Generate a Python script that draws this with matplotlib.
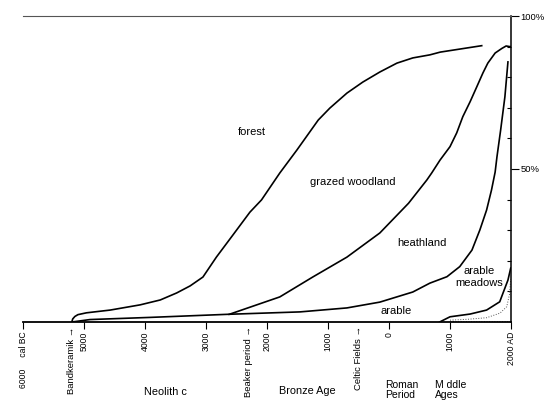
import matplotlib
matplotlib.use('Agg')
import matplotlib.pyplot as plt
import matplotlib.transforms as mtransforms

plt.rcParams['font.family'] = ['Liberation Sans', 'DejaVu Sans']

# years: negative = BC, positive = AD ; values = share of landscape in %
forest_years = [-5200, -5185, -5150, -5100, -4960, -4570, -4080, -3750, -3480, -3260, -3050, -2830,
                -2560, -2280, -2090, -1790, -1510, -1160, -970, -690, -430, -150,
                130, 390, 670, 840, 1520]
forest_pct = [0, 1.0, 1.8, 2.4, 3.0, 3.9, 5.6, 7.2, 9.5, 11.8, 14.7, 21.2,
              28.4, 35.9, 39.9, 48.7, 56.2, 66.0, 69.9, 74.8, 78.4, 81.7,
              84.6, 86.3, 87.3, 88.2, 90.3]

grazed_years = [-2620, -1790, -1250, -690, -150, 320, 620, 700, 836, 1000,
                1110, 1210, 1330, 1440, 1540, 1620, 1740, 1850, 1920, 1980, 2000]
grazed_pct = [2.5, 8.2, 14.7, 21.2, 29.1, 38.8, 46.4, 48.7, 52.9, 57.3,
              61.8, 67.1, 72.0, 76.9, 81.4, 84.6, 87.9, 89.4, 90.2, 90.0, 90.0]

heath_years = [-5200, -4900, -3920, -2660, -1460, -690, -150, 390, 670, 950,
               1160, 1360, 1490, 1600, 1680, 1740, 1770, 1830, 1900, 1950]
heath_pct = [0, 0.8, 1.5, 2.5, 3.3, 4.6, 6.5, 9.8, 12.7, 14.8,
             18.1, 23.5, 30.1, 36.6, 43.1, 49.0, 54.0, 62.7, 73.6, 85.0]

arable_years = [830, 1000, 1330, 1600, 1815, 1870, 1950, 1995]
arable_pct = [0, 1.7, 2.6, 3.9, 6.6, 9.5, 13.7, 17.6]

meadow_years = [1000, 1300, 1600, 1820, 1930, 1975, 1995]
meadow_pct = [0.6, 0.9, 1.4, 2.9, 5.0, 9.0, 14.0]

tick_years = [-6000, -5000, -4000, -3000, -2000, -1000, 0, 1000, 2000]
tick_labels = ['6000     cal BC', '5000', '4000', '3000', '2000', '1000', '0', '1000', '2000 AD']

event_years = [-5200, -2300, -500]
event_labels = ['Bandkeramik \u2192', 'Beaker period \u2192', 'Celtic Fields \u2192']

fig = plt.figure(figsize=(5.46, 4.01), dpi=100)
ax = fig.add_axes([23/546, 79/401, 488/546, 306/401])
ax.set_xlim(-6000, 2000)
ax.set_ylim(0, 100)

ax.plot(forest_years, forest_pct, color='black', lw=1.2)
ax.plot(grazed_years, grazed_pct, color='black', lw=1.2)
ax.plot(heath_years, heath_pct, color='black', lw=1.2)
ax.plot(arable_years, arable_pct, color='black', lw=1.2)
ax.plot(meadow_years, meadow_pct, color='#555555', lw=0.7, ls=':')
ax.plot([1000, 2000], [0.4, 0.4], color='#555555', lw=0.7, ls=':')

ax.spines['left'].set_visible(False)
ax.spines['top'].set_color('#555555')
ax.spines['top'].set_linewidth(0.8)
ax.spines['right'].set_linewidth(1.1)
ax.spines['bottom'].set_linewidth(1.3)

ax.set_xticks(tick_years)
ax.set_xticklabels(tick_labels, rotation=90, fontsize=6.2)
ax.tick_params(axis='x', direction='out', length=5, width=0.8, pad=2)

ax.yaxis.tick_right()
ax.set_yticks([50, 100])
ax.set_yticklabels(['50%', '100%'], fontsize=6.8)
ax.set_yticks([10, 20, 30, 40, 60, 70, 80, 90], minor=True)
ax.tick_params(axis='y', which='major', direction='out', length=6, width=0.8, pad=1)
ax.tick_params(axis='y', which='minor', direction='in', length=3, width=0.8)

# area labels
ax.text(-2254, 62.2, 'forest', ha='center', va='center', fontsize=8)
ax.text(-600, 45.8, 'grazed woodland', ha='center', va='center', fontsize=8)
ax.text(533, 25.8, 'heathland', ha='center', va='center', fontsize=8)
ax.text(115, 3.6, 'arable', ha='center', va='center', fontsize=8)
ax.text(1475, 14.7, 'arable\nmeadows', ha='center', va='center', fontsize=8, linespacing=1.15)

trans = mtransforms.blended_transform_factory(ax.transData, ax.transAxes)
for yr, lab in zip(event_years, event_labels):
    ax.text(yr, -0.014, lab, rotation=90, ha='center', va='top', transform=trans, fontsize=6.8)

ax.text(-3670, -0.228, 'Neolith c', ha='center', va='center', transform=trans, fontsize=7.8)
ax.text(-1340, -0.225, 'Bronze Age', ha='center', va='center', transform=trans, fontsize=7.8)
ax.text(-66, -0.19, 'Roman\nPeriod', ha='left', va='top', transform=trans, fontsize=7.5, linespacing=1.0)
ax.text(754, -0.19, 'M ddle\nAges', ha='left', va='top', transform=trans, fontsize=7.5, linespacing=1.0)

fig.savefig('out.png', dpi=100)
